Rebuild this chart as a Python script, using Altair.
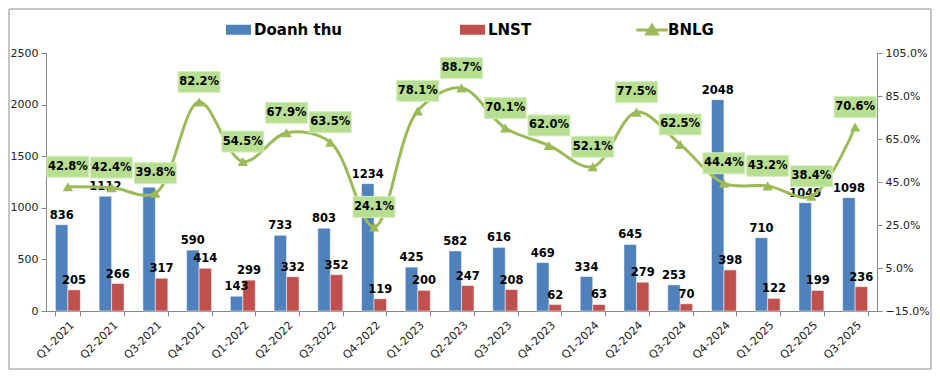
import altair as alt
import pandas as pd

quarters = ["Q1-2021", "Q2-2021", "Q3-2021", "Q4-2021", "Q1-2022", "Q2-2022", "Q3-2022", "Q4-2022",
            "Q1-2023", "Q2-2023", "Q3-2023", "Q4-2023", "Q1-2024", "Q2-2024", "Q3-2024", "Q4-2024",
            "Q1-2025", "Q2-2025", "Q3-2025"]
doanh_thu = [836, 1112, 1199, 590, 143, 733, 803, 1234, 425, 582, 616, 469, 334, 645, 253, 2048, 710, 1049, 1098]
lnst = [205, 266, 317, 414, 299, 332, 352, 119, 200, 247, 208, 62, 63, 279, 70, 398, 122, 199, 236]
bnlg = [42.8, 42.4, 39.8, 82.2, 54.5, 67.9, 63.5, 24.1, 78.1, 88.7, 70.1, 62.0, 52.1, 77.5, 62.5, 44.4, 43.2, 38.4, 70.6]

FONT = "DejaVu Sans"
BLUE, RED, GREEN, BOX = "#4f81bd", "#c0504d", "#9bbb59", "#b7df91"

bars_df = pd.DataFrame(
    [{"q": q, "s": "Doanh thu", "v": v} for q, v in zip(quarters, doanh_thu)]
    + [{"q": q, "s": "LNST", "v": v} for q, v in zip(quarters, lnst)]
)
line_df = pd.DataFrame({"q": quarters, "p": [b / 100 for b in bnlg], "s": ["BNLG"] * len(quarters),
                        "lab": [f"{b:.1f}%" for b in bnlg]})

x_enc = alt.X("q:N", sort=quarters, title=None,
              scale=alt.Scale(paddingInner=0.43, paddingOuter=0.215),
              axis=alt.Axis(labelAngle=-45, labelAlign="right", labelBaseline="top", tickBand="extent",
                            labelFontSize=11, labelPadding=3, tickSize=5, domainColor="#868686",
                            tickColor="#868686", labelColor="#222222", labelFont=FONT))
xoff = alt.XOffset("s:N", sort=["Doanh thu", "LNST"])
y_left = alt.Y("v:Q", title=None, scale=alt.Scale(domain=[0, 2500], nice=False),
               axis=alt.Axis(values=[0, 500, 1000, 1500, 2000, 2500], format="d", grid=False, tickSize=5,
                             domainColor="#868686", tickColor="#868686", labelColor="#222222",
                             labelFontSize=11, labelFont=FONT, labelPadding=3))

bars = alt.Chart(bars_df).mark_bar(stroke="white", strokeWidth=0.5).encode(
    x=x_enc, xOffset=xoff, y=y_left,
    color=alt.Color("s:N", scale=alt.Scale(domain=["Doanh thu", "LNST"], range=[BLUE, RED]),
                    legend=alt.Legend(title=None, orient="none", legendX=180, legendY=-36,
                                      direction="horizontal", columnPadding=118,
                                      symbolType="M-1,-0.4L1,-0.4L1,0.4L-1,0.4Z", symbolSize=625,
                                      symbolStrokeWidth=0, labelFont=FONT, labelFontSize=15,
                                      labelFontWeight="bold", labelColor="black", labelOffset=3)),
)
bar_text = alt.Chart(bars_df).mark_text(dy=-9, font=FONT, fontSize=11.5, fontWeight="bold",
                                        color="black").encode(
    x=alt.X("q:N", sort=quarters), xOffset=xoff, y=alt.Y("v:Q"), text="v:Q"
)
border = alt.Chart(alt.Data(values=[{}])).mark_rect(filled=False, stroke="#8c8c8c", strokeWidth=1).encode(
    x=alt.value(-37), x2=alt.value(885), y=alt.value(-44), y2=alt.value(316)
)
left = alt.layer(border, bars, bar_text)

y_right = alt.Y("p:Q", title=None, scale=alt.Scale(domain=[-0.15, 1.05], nice=False),
                axis=alt.Axis(orient="right", values=[-0.15, 0.05, 0.25, 0.45, 0.65, 0.85, 1.05],
                              format=".1%", grid=False, tickSize=5, domainColor="#868686",
                              tickColor="#868686", labelColor="#222222", labelFontSize=11,
                              labelFont=FONT, labelPadding=3))
line = alt.Chart(line_df).mark_line(interpolate="catmull-rom", strokeWidth=3).encode(
    x=alt.X("q:N", sort=quarters), y=y_right,
    stroke=alt.Stroke("s:N", scale=alt.Scale(domain=["BNLG"], range=[GREEN]),
                      legend=alt.Legend(title=None, orient="none", legendX=593, legendY=-36,
                                        symbolType="M-1.4,0L1.4,0M-0.45,0.35L0,-0.4L0.45,0.35Z",
                                        symbolSize=500, symbolStrokeWidth=3, symbolFillColor=GREEN,
                                        labelFont=FONT, labelFontSize=15, labelFontWeight="bold",
                                        labelColor="black", labelOffset=3)),
)
tri = alt.Chart(line_df).mark_point(shape="triangle-up", filled=True, size=110, color=GREEN, opacity=1).encode(
    x=alt.X("q:N", sort=quarters), y=alt.Y("p:Q")
)
boxes = alt.Chart(line_df).mark_point(shape="M-1,-0.5L1,-0.5L1,0.5L-1,0.5Z", size=1764, filled=True,
                                      fill=BOX, stroke="#d4edbd", strokeWidth=1, opacity=1,
                                      yOffset=-20).encode(
    x=alt.X("q:N", sort=quarters), y=alt.Y("p:Q")
)
box_text = alt.Chart(line_df).mark_text(yOffset=-20, font=FONT, fontSize=11.5, fontWeight="bold",
                                        color="black", baseline="middle").encode(
    x=alt.X("q:N", sort=quarters), y=alt.Y("p:Q"), text="lab:N"
)
right = alt.layer(line, tri, boxes, box_text)

chart = alt.layer(left, right).resolve_scale(y="independent").properties(
    width=831, height=258,
    autosize=alt.AutoSizeParams(type="none"),
    padding={"left": 38, "top": 45, "right": 55, "bottom": 60},
    background="white",
).configure_view(stroke=None)

chart.save("out.html", embed_options={"renderer": "svg", "actions": False})
